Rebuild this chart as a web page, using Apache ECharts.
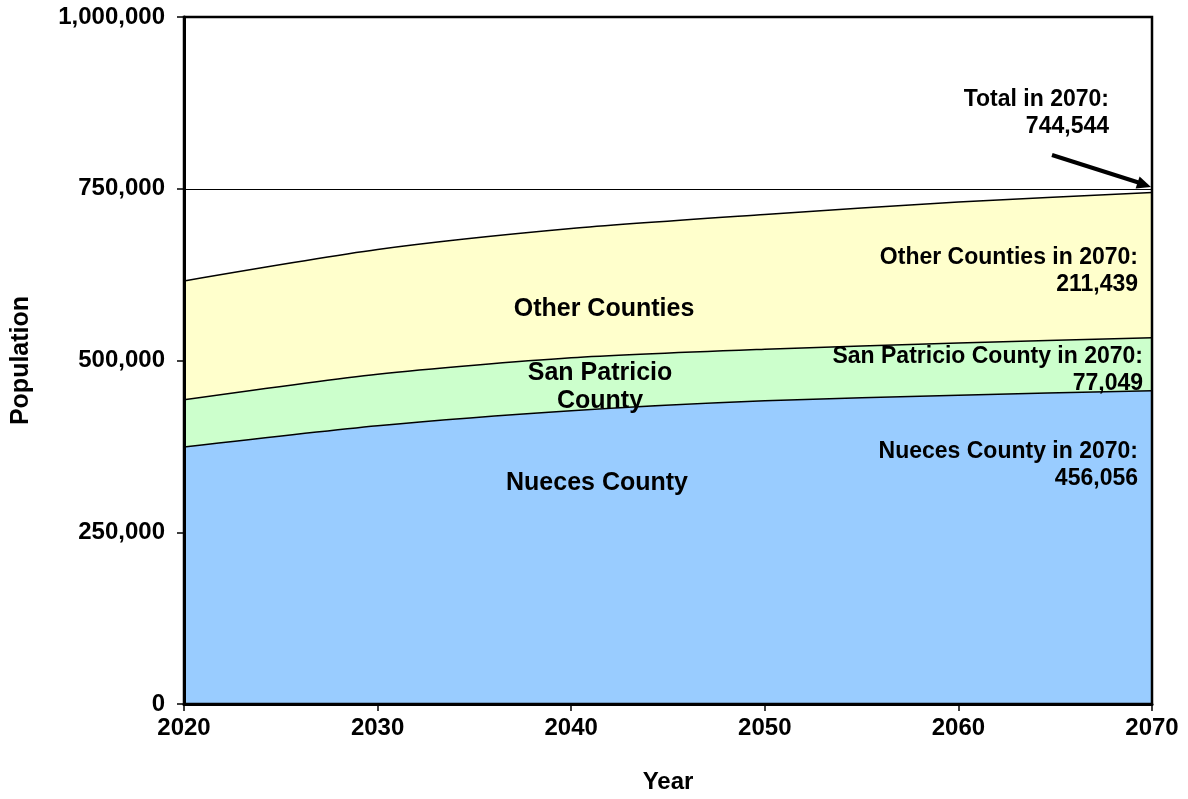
<!DOCTYPE html>
<html>
<head>
<meta charset="utf-8">
<script src="https://cdn.jsdelivr.net/npm/echarts@6/dist/echarts.min.js"></script>
<style>html,body{margin:0;padding:0;background:#fff;}#c{width:1188px;height:799px;}</style>
</head>
<body>
<div id="c"></div>
<script>
const years = ['2020', '2030', '2040', '2050', '2060', '2070'];
const nueces = [374000, 405000, 427000, 441500, 449500, 456056];
const sanPatricio = [68800, 75000, 77000, 75000, 76000, 77049];
const otherCounties = [173000, 181500, 188000, 196000, 205300, 211439];
const yTicks = [0, 250000, 500000, 750000, 1000000];

const FONT = '"Liberation Sans", Arial, sans-serif';
const chart = echarts.init(document.getElementById('c'), null, {renderer: 'canvas'});

function txt(x, y, text, align, size) {
  return {
    type: 'text', x: x, y: y, z: 100,
    style: {text: text, font: 'bold ' + (size || 23) + 'px ' + FONT, fill: '#000',
            textAlign: align || 'right', textVerticalAlign: 'middle'}
  };
}

const lineStyle = {color: '#000', width: 1.5};
function mk(name, data, color, extra) {
  return Object.assign({
    name: name, type: 'line', stack: 'pop', data: data, smooth: 0.25,
    symbol: 'none', lineStyle: lineStyle,
    areaStyle: {color: color, opacity: 1}, z: 2
  }, extra || {});
}

chart.setOption({
  animation: false,
  backgroundColor: '#fff',
  grid: {left: 184, right: 36, top: 17, bottom: 93, show: true, borderColor: '#000', borderWidth: 2.5, backgroundColor: 'transparent', z: 20},
  xAxis: {
    type: 'category', data: years, boundaryGap: false, z: 10,
    name: 'Year', nameLocation: 'middle', nameGap: 66,
    nameTextStyle: {fontFamily: FONT, fontWeight: 'bold', fontSize: 24, color: '#000'},
    axisLine: {lineStyle: {color: '#000', width: 3}},
    axisTick: {show: true, length: 7, lineStyle: {color: '#000', width: 1.5}, alignWithLabel: true},
    axisLabel: {fontFamily: FONT, fontWeight: 'bold', fontSize: 24, color: '#000', margin: 12},
    splitLine: {show: false}
  },
  yAxis: {
    type: 'value', min: yTicks[0], max: yTicks[yTicks.length - 1], interval: 250000, z: 10,
    name: 'Population', nameLocation: 'middle', nameGap: 150, nameRotate: 90,
    nameTextStyle: {fontFamily: FONT, fontWeight: 'bold', fontSize: 25, color: '#000'},
    axisLine: {show: true, lineStyle: {color: '#000', width: 3}},
    axisTick: {show: true, length: 7, lineStyle: {color: '#000', width: 1.5}},
    axisLabel: {fontFamily: FONT, fontWeight: 'bold', fontSize: 24, color: '#000', margin: 19,
      formatter: v => Number(v).toLocaleString('en-US')},
    splitLine: {show: false}
  },
  series: [
    mk('Nueces County', nueces, '#99CCFF'),
    mk('San Patricio County', sanPatricio, '#CCFFCC'),
    mk('Other Counties', otherCounties, '#FFFFCC', {
      markLine: {
        silent: true, symbol: 'none', label: {show: false},
        lineStyle: {color: '#000', width: 1, type: 'solid'},
        data: [{yAxis: yTicks[3]}]
      }
    })
  ],
  graphic: [
    txt(1109, 100, 'Total in 2070:'),
    txt(1109, 127, '744,544'),
    {type: 'line', z: 100, shape: {x1: 1052, y1: 155, x2: 1140, y2: 183}, style: {stroke: '#000', lineWidth: 4}},
    {type: 'polygon', z: 100, shape: {points: [[1151, 187], [1139.6, 176.5], [1135.6, 188.6]]}, style: {fill: '#000'}},
    txt(1138, 258, 'Other Counties in 2070:'),
    txt(1138, 285, '211,439'),
    txt(1143, 357, 'San Patricio County in 2070:'),
    txt(1143, 384, '77,049'),
    txt(1138, 452, 'Nueces County in 2070:'),
    txt(1138, 479, '456,056'),
    txt(604, 309, 'Other Counties', 'center', 25),
    txt(600, 373, 'San Patricio', 'center', 25),
    txt(600, 401, 'County', 'center', 25),
    txt(597, 483, 'Nueces County', 'center', 25)
  ]
});
</script>
</body>
</html>
